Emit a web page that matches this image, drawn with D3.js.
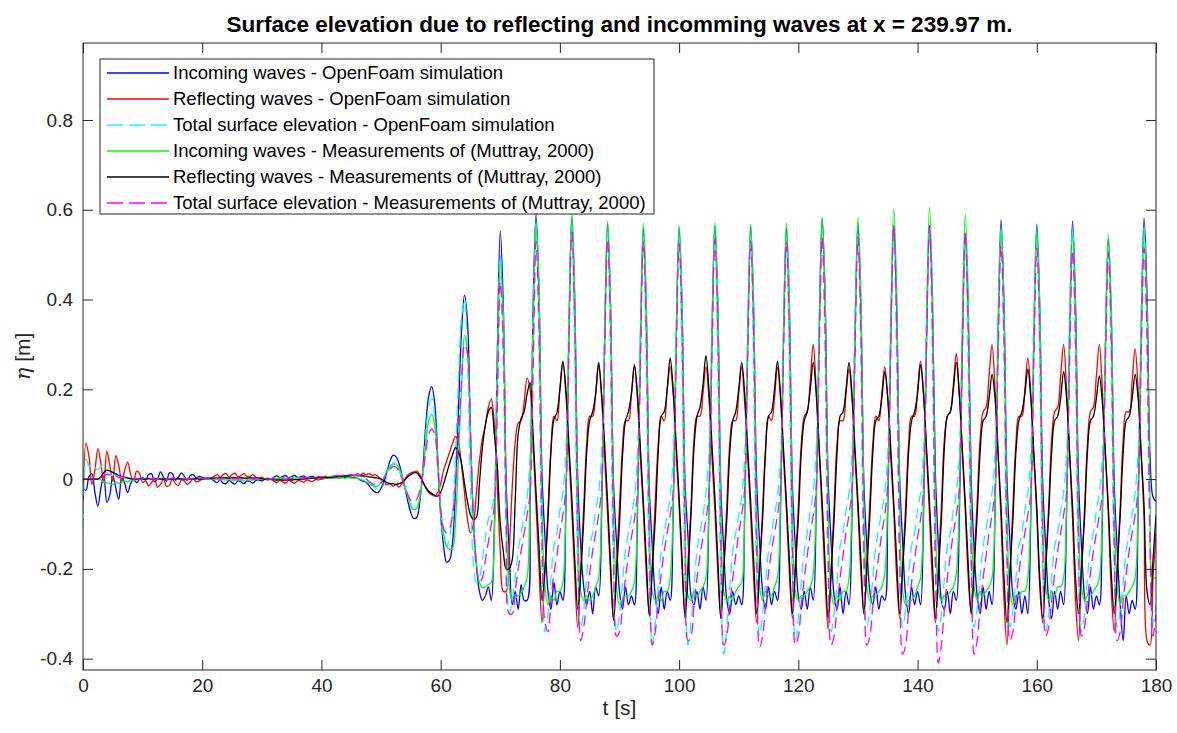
<!DOCTYPE html>
<html>
<head>
<meta charset="utf-8">
<script src="https://cdn.jsdelivr.net/npm/d3@7"></script>
<style>
  body { margin: 0; background: #fff; }
  svg { display: block; }
  text { font-family: "Liberation Sans", Arial, Helvetica, sans-serif; }
</style>
</head>
<body>
<div id="chart"></div>
<script>
// sample spacing of every series (s), first sample at t = 0
const tStep = 0.5;

const xTicks = [0, 20, 40, 60, 80, 100, 120, 140, 160, 180];
const yTicks = [-0.4, -0.2, 0, 0.2, 0.4, 0.6, 0.8];

const seriesNames = [
  "Incoming waves - OpenFoam simulation",
  "Reflecting waves - OpenFoam simulation",
  "Total surface elevation - OpenFoam simulation",
  "Incoming waves - Measurements of (Muttray, 2000)",
  "Reflecting waves - Measurements of (Muttray, 2000)",
  "Total surface elevation - Measurements of (Muttray, 2000)"
];

// one row = 6 s (12 samples)
const incomingSim = [
  -0.02, -0.025, 0.005, 0.012, -0.03, -0.06, -0.02, 0.008, -0.052, -0.035, 0.008, -0.02,
  -0.045, 0.005, -0.01, -0.03, -0.01, 0.0, -0.008, 0.0, 0.004, -0.002, 0.01, 0.012,
  -0.006, 0.0, 0.016, 0.005, -0.005, 0.014, 0.012, -0.002, 0.004, 0.014, 0.006, -0.003,
  0.008, 0.01, 0.002, 0.006, 0.004, 0.002, 0.003, 0.0, -0.004, -0.008, -0.002, -0.009,
  -0.01, -0.003, -0.008, -0.011, -0.004, -0.006, -0.01, -0.004, -0.005, -0.009, -0.003, -0.002,
  -0.004, 0.0, 0.002, 0.0, 0.004, 0.007, 0.003, 0.006, 0.008, 0.003, 0.005, 0.008,
  0.004, 0.005, 0.007, 0.003, 0.005, 0.006, 0.003, 0.004, 0.004, 0.003, 0.003, 0.002,
  0.003, 0.004, 0.002, 0.004, 0.003, 0.005, 0.004, 0.003, 0.002, -0.002, -0.005, -0.007,
  -0.015, -0.023, -0.029, -0.03, -0.02, -0.005, 0.017, 0.04, 0.053, 0.05, 0.035, 0.01,
  -0.02, -0.05, -0.075, -0.088, -0.085, -0.05, 0.02, 0.12, 0.185, 0.206, 0.17, 0.05,
  -0.08, -0.15, -0.185, -0.18, -0.14, -0.02, 0.16, 0.33, 0.41, 0.35, 0.1, -0.09,
  -0.19, -0.25, -0.27, -0.26, -0.24, -0.27, -0.11, 0.28, 0.553, 0.39, -0.01, -0.16,
  -0.28, -0.25, -0.29, -0.235, -0.27, -0.27, -0.04, 0.38, 0.59, 0.41, 0.01, -0.13,
  -0.25, -0.29, -0.23, -0.28, -0.25, -0.27, -0.07, 0.32, 0.585, 0.39, 0.0, -0.15,
  -0.24, -0.28, -0.25, -0.30, -0.24, -0.26, -0.08, 0.30, 0.57, 0.38, -0.01, -0.14,
  -0.25, -0.29, -0.24, -0.28, -0.26, -0.28, -0.09, 0.29, 0.56, 0.37, -0.02, -0.15,
  -0.26, -0.30, -0.24, -0.29, -0.25, -0.27, -0.08, 0.30, 0.56, 0.38, -0.01, -0.13,
  -0.26, -0.28, -0.25, -0.29, -0.24, -0.27, -0.07, 0.31, 0.565, 0.38, -0.02, -0.16,
  -0.27, -0.30, -0.25, -0.28, -0.26, -0.28, -0.08, 0.30, 0.565, 0.37, 0.0, -0.14,
  -0.25, -0.29, -0.24, -0.28, -0.25, -0.27, -0.08, 0.30, 0.56, 0.38, -0.01, -0.15,
  -0.26, -0.29, -0.25, -0.29, -0.24, -0.27, -0.06, 0.33, 0.582, 0.40, 0.0, -0.14,
  -0.26, -0.29, -0.24, -0.30, -0.25, -0.28, -0.08, 0.31, 0.57, 0.38, -0.01, -0.15,
  -0.25, -0.28, -0.24, -0.29, -0.26, -0.27, -0.07, 0.31, 0.565, 0.38, 0.0, -0.14,
  -0.26, -0.30, -0.24, -0.28, -0.25, -0.28, -0.08, 0.30, 0.565, 0.39, 0.01, -0.15,
  -0.27, -0.29, -0.25, -0.30, -0.25, -0.27, -0.09, 0.28, 0.548, 0.37, 0.0, -0.16,
  -0.26, -0.30, -0.24, -0.29, -0.25, -0.28, -0.07, 0.32, 0.578, 0.39, 0.0, -0.14,
  -0.26, -0.29, -0.25, -0.30, -0.26, -0.30, -0.08, 0.31, 0.568, 0.38, -0.01, -0.15,
  -0.27, -0.31, -0.25, -0.29, -0.25, -0.28, -0.07, 0.32, 0.575, 0.39, 0.0, -0.15,
  -0.26, -0.30, -0.24, -0.29, -0.26, -0.28, -0.09, 0.28, 0.535, 0.36, -0.01, -0.16,
  -0.28, -0.36, -0.26, -0.30, -0.27, -0.29, -0.07, 0.32, 0.582, 0.41, 0.05, -0.04,
  -0.05
];

const reflectingSim = [
  -0.075, 0.08, 0.05, -0.012, 0.02, 0.068, 0.035, -0.008, 0.062, 0.03, -0.005, 0.052,
  0.03, -0.005, 0.02, 0.038, 0.01, -0.004, 0.018, 0.012, -0.008, -0.004, -0.015, -0.008,
  0.0, -0.018, -0.012, 0.0, -0.016, -0.014, 0.0, -0.01, -0.014, -0.002, -0.004, -0.012,
  -0.006, 0.0, -0.006, -0.004, 0.0, 0.002, 0.0, 0.003, 0.006, 0.01, 0.004, 0.01,
  0.012, 0.004, 0.01, 0.013, 0.005, 0.008, 0.012, 0.006, 0.006, 0.01, 0.004, 0.003,
  0.004, 0.0, -0.002, 0.0, -0.004, -0.008, -0.003, -0.006, -0.009, -0.003, -0.006, -0.009,
  -0.004, -0.004, -0.007, -0.002, -0.004, -0.005, -0.001, -0.002, 0.0, 0.001, 0.002, 0.003,
  0.004, 0.006, 0.005, 0.007, 0.006, 0.008, 0.01, 0.008, 0.012, 0.009, 0.013, 0.01,
  0.012, 0.008, 0.01, 0.006, 0.0, -0.008, -0.013, -0.01, -0.016, -0.012, -0.018, -0.01,
  0.0, 0.01, 0.014, 0.016, 0.018, 0.01, -0.005, -0.02, -0.03, -0.035, -0.038, -0.03,
  -0.01, 0.02, 0.04, 0.06, 0.08, 0.095, 0.08, 0.03, -0.03, -0.09, -0.12, -0.1,
  -0.03, 0.04, 0.09, 0.12, 0.16, 0.178, 0.12, -0.02, -0.16, -0.25, -0.25, -0.16,
  -0.02, 0.08, 0.125, 0.13, 0.17, 0.225, 0.2, 0.08, -0.06, -0.2, -0.32, -0.2,
  -0.07, 0.07, 0.14, 0.13, 0.20, 0.26, 0.19, 0.06, -0.07, -0.22, -0.33, -0.2,
  -0.06, 0.08, 0.14, 0.14, 0.19, 0.255, 0.18, 0.05, -0.08, -0.21, -0.31, -0.19,
  -0.06, 0.07, 0.13, 0.13, 0.19, 0.25, 0.18, 0.05, -0.07, -0.21, -0.30, -0.19,
  -0.05, 0.08, 0.14, 0.13, 0.20, 0.25, 0.19, 0.06, -0.06, -0.20, -0.30, -0.18,
  -0.06, 0.09, 0.14, 0.14, 0.19, 0.25, 0.18, 0.05, -0.07, -0.21, -0.31, -0.19,
  -0.06, 0.08, 0.13, 0.13, 0.19, 0.25, 0.17, 0.05, -0.08, -0.22, -0.32, -0.2,
  -0.07, 0.07, 0.14, 0.13, 0.18, 0.25, 0.18, 0.05, -0.07, -0.21, -0.31, -0.19,
  -0.06, 0.08, 0.14, 0.15, 0.22, 0.30, 0.20, 0.06, -0.08, -0.23, -0.335, -0.2,
  -0.06, 0.08, 0.13, 0.13, 0.19, 0.245, 0.18, 0.05, -0.07, -0.21, -0.30, -0.18,
  -0.05, 0.08, 0.14, 0.13, 0.19, 0.25, 0.18, 0.05, -0.07, -0.22, -0.31, -0.19,
  -0.06, 0.08, 0.14, 0.14, 0.20, 0.263, 0.19, 0.06, -0.08, -0.23, -0.32, -0.19,
  -0.06, 0.09, 0.14, 0.15, 0.21, 0.28, 0.19, 0.06, -0.07, -0.22, -0.30, -0.18,
  -0.05, 0.09, 0.15, 0.16, 0.23, 0.30, 0.20, 0.06, -0.09, -0.27, -0.37, -0.21,
  -0.06, 0.08, 0.14, 0.14, 0.20, 0.27, 0.19, 0.05, -0.08, -0.24, -0.32, -0.19,
  -0.06, 0.09, 0.15, 0.16, 0.23, 0.30, 0.20, 0.06, -0.09, -0.27, -0.36, -0.21,
  -0.07, 0.08, 0.15, 0.16, 0.23, 0.30, 0.20, 0.06, -0.08, -0.25, -0.34, -0.2,
  -0.06, 0.09, 0.15, 0.15, 0.22, 0.29, 0.20, 0.06, -0.09, -0.36, -0.37, -0.22,
  -0.12
];

const totalSim = [
  -0.11, 0.045, 0.03, 0.02, 0.025, 0.02, 0.028, 0.018, 0.015, 0.01, 0.008, 0.012,
  0.006, 0.004, 0.006, 0.004, 0.002, 0.003, 0.002, 0.001, 0.002, 0.0, 0.001, 0.002,
  0.001, 0.0, 0.002, 0.001, 0.0, 0.001, 0.002, 0.0, 0.001, 0.002, 0.001, 0.0,
  0.001, 0.002, 0.0, 0.001, 0.002, 0.001, 0.002, 0.002, 0.001, 0.002, 0.001, 0.002,
  0.001, 0.002, 0.001, 0.001, 0.002, 0.001, 0.002, 0.001, 0.001, 0.002, 0.001, 0.001,
  0.0, 0.001, 0.0, 0.001, 0.0, 0.0, 0.001, 0.0, 0.0, 0.001, 0.0, 0.0,
  0.001, 0.001, 0.002, 0.002, 0.002, 0.003, 0.003, 0.004, 0.004, 0.005, 0.005, 0.006,
  0.007, 0.008, 0.007, 0.009, 0.008, 0.01, 0.01, 0.009, 0.01, 0.008, 0.006, 0.003,
  -0.003, -0.013, -0.018, -0.022, -0.02, -0.012, 0.005, 0.025, 0.035, 0.037, 0.02, 0.0,
  -0.02, -0.04, -0.06, -0.07, -0.065, -0.04, 0.01, 0.1, 0.16, 0.18, 0.14, 0.03,
  -0.08, -0.13, -0.15, -0.13, -0.07, 0.06, 0.23, 0.36, 0.40, 0.27, -0.02, -0.19,
  -0.23, -0.22, -0.18, -0.13, -0.09, -0.07, -0.03, 0.26, 0.50, 0.27, -0.14, -0.30,
  -0.27, -0.22, -0.16, -0.12, -0.08, -0.04, 0.05, 0.36, 0.57, 0.27, -0.20, -0.34,
  -0.30, -0.22, -0.15, -0.12, -0.07, -0.03, 0.06, 0.36, 0.565, 0.26, -0.20, -0.33,
  -0.29, -0.22, -0.15, -0.12, -0.07, -0.03, 0.06, 0.35, 0.55, 0.25, -0.21, -0.34,
  -0.30, -0.23, -0.16, -0.12, -0.08, -0.04, 0.05, 0.34, 0.54, 0.24, -0.23, -0.37,
  -0.32, -0.24, -0.16, -0.12, -0.08, -0.04, 0.05, 0.34, 0.54, 0.24, -0.23, -0.37,
  -0.32, -0.24, -0.16, -0.12, -0.08, -0.03, 0.06, 0.35, 0.545, 0.24, -0.24, -0.39,
  -0.33, -0.24, -0.16, -0.12, -0.08, -0.04, 0.05, 0.34, 0.545, 0.24, -0.22, -0.35,
  -0.30, -0.23, -0.16, -0.12, -0.08, -0.04, 0.05, 0.34, 0.54, 0.24, -0.22, -0.36,
  -0.31, -0.23, -0.16, -0.12, -0.07, -0.03, 0.07, 0.37, 0.56, 0.26, -0.21, -0.34,
  -0.30, -0.23, -0.15, -0.12, -0.07, -0.03, 0.06, 0.36, 0.55, 0.25, -0.20, -0.33,
  -0.29, -0.22, -0.15, -0.11, -0.07, -0.03, 0.06, 0.36, 0.55, 0.25, -0.20, -0.33,
  -0.29, -0.22, -0.15, -0.12, -0.07, -0.03, 0.06, 0.36, 0.55, 0.25, -0.21, -0.34,
  -0.30, -0.22, -0.15, -0.12, -0.07, -0.03, 0.05, 0.34, 0.53, 0.24, -0.20, -0.33,
  -0.29, -0.22, -0.15, -0.11, -0.07, -0.03, 0.06, 0.37, 0.56, 0.26, -0.20, -0.33,
  -0.29, -0.22, -0.15, -0.12, -0.07, -0.03, 0.06, 0.36, 0.55, 0.25, -0.21, -0.34,
  -0.30, -0.22, -0.15, -0.12, -0.07, -0.03, 0.06, 0.37, 0.555, 0.26, -0.21, -0.34,
  -0.30, -0.22, -0.15, -0.12, -0.07, -0.03, 0.05, 0.33, 0.515, 0.24, -0.20, -0.33,
  -0.29, -0.23, -0.16, -0.12, -0.08, -0.03, 0.06, 0.37, 0.56, 0.28, -0.17, -0.32,
  -0.28
];

const incomingMeas = [
  0, 0, 0, 0, 0, 0, -0.002, -0.006, -0.008, -0.01, -0.012, -0.006,
  -0.01, -0.008, -0.004, -0.006, -0.002, -0.003, -0.001, 0.0, 0.001, 0.0, 0.002, 0.001,
  0.002, 0.0, 0.001, 0.002, 0.0, 0.001, 0.002, 0.001, 0.0, 0.001, 0.002, 0.0,
  0.001, 0.0, 0.001, 0.002, 0.001, 0.0, 0.0, 0.001, -0.001, 0.0, -0.002, -0.001,
  -0.002, -0.001, -0.002, -0.003, -0.001, -0.002, -0.003, -0.001, -0.002, -0.002, -0.001, 0.0,
  0.0, 0.001, 0.0, 0.001, 0.002, 0.001, 0.002, 0.003, 0.002, 0.002, 0.003, 0.002,
  0.003, 0.002, 0.003, 0.003, 0.002, 0.003, 0.002, 0.003, 0.002, 0.002, 0.003, 0.002,
  0.002, 0.003, 0.002, 0.003, 0.002, 0.003, 0.002, 0.002, 0.001, 0.0, -0.003, -0.006,
  -0.01, -0.014, -0.016, -0.015, -0.008, 0.005, 0.018, 0.028, 0.033, 0.033, 0.025, 0.008,
  -0.015, -0.04, -0.06, -0.068, -0.065, -0.04, 0.01, 0.08, 0.13, 0.144, 0.12, 0.04,
  -0.06, -0.12, -0.15, -0.157, -0.155, -0.09, 0.05, 0.2, 0.32, 0.28, 0.1, -0.08,
  -0.19, -0.23, -0.242, -0.24, -0.235, -0.23, -0.12, 0.2, 0.479, 0.37, -0.06, -0.24,
  -0.27, -0.265, -0.26, -0.255, -0.24, -0.22, -0.01, 0.30, 0.57, 0.43, -0.06, -0.24,
  -0.28, -0.26, -0.27, -0.25, -0.25, -0.23, -0.06, 0.32, 0.593, 0.41, -0.07, -0.25,
  -0.27, -0.26, -0.27, -0.26, -0.24, -0.22, -0.05, 0.31, 0.575, 0.40, -0.07, -0.24,
  -0.28, -0.27, -0.26, -0.26, -0.25, -0.23, -0.06, 0.30, 0.57, 0.40, -0.08, -0.25,
  -0.27, -0.26, -0.27, -0.25, -0.25, -0.22, -0.06, 0.30, 0.565, 0.39, -0.07, -0.26,
  -0.27, -0.25, -0.26, -0.25, -0.24, -0.22, -0.05, 0.31, 0.573, 0.40, -0.07, -0.25,
  -0.27, -0.26, -0.27, -0.25, -0.24, -0.23, -0.06, 0.30, 0.568, 0.40, -0.08, -0.24,
  -0.27, -0.25, -0.26, -0.26, -0.24, -0.22, -0.05, 0.31, 0.57, 0.40, -0.07, -0.25,
  -0.27, -0.26, -0.26, -0.25, -0.24, -0.21, -0.04, 0.32, 0.58, 0.41, -0.07, -0.25,
  -0.28, -0.26, -0.27, -0.25, -0.25, -0.22, -0.05, 0.32, 0.583, 0.41, -0.06, -0.24,
  -0.27, -0.26, -0.26, -0.25, -0.24, -0.21, -0.04, 0.34, 0.603, 0.42, -0.06, -0.25,
  -0.28, -0.27, -0.27, -0.26, -0.24, -0.22, -0.04, 0.34, 0.605, 0.42, -0.07, -0.25,
  -0.27, -0.26, -0.26, -0.25, -0.24, -0.21, -0.05, 0.33, 0.59, 0.41, -0.07, -0.24,
  -0.27, -0.25, -0.26, -0.25, -0.24, -0.22, -0.06, 0.30, 0.56, 0.39, -0.07, -0.25,
  -0.28, -0.26, -0.26, -0.25, -0.25, -0.22, -0.06, 0.30, 0.555, 0.39, -0.08, -0.24,
  -0.27, -0.25, -0.26, -0.24, -0.24, -0.22, -0.06, 0.29, 0.545, 0.38, -0.07, -0.24,
  -0.27, -0.26, -0.26, -0.25, -0.24, -0.22, -0.06, 0.29, 0.545, 0.38, -0.06, -0.24,
  -0.28, -0.26, -0.26, -0.25, -0.24, -0.22, -0.06, 0.30, 0.555, 0.39, -0.04, -0.22,
  -0.22
];

const reflectingMeas = [
  0, 0, 0, 0, 0, 0, 0.005, 0.015, 0.02, 0.018, 0.015, 0.012,
  0.008, 0.006, 0.004, 0.002, 0.001, 0.0, 0.0, 0.001, 0.0, 0.0, 0.001, 0.0,
  0.0, 0.001, 0.0, 0.0, 0.001, 0.0, 0.0, 0.0, 0.001, 0.0, 0.0, 0.001,
  0.0, 0.0, 0.001, 0.0, 0.0, 0.001, 0.001, 0.002, 0.002, 0.003, 0.002, 0.003,
  0.003, 0.002, 0.003, 0.003, 0.002, 0.003, 0.002, 0.002, 0.003, 0.002, 0.002, 0.001,
  0.001, 0.0, 0.0, -0.001, -0.001, -0.002, -0.001, -0.002, -0.002, -0.001, -0.002, -0.001,
  -0.001, 0.0, 0.0, 0.001, 0.001, 0.002, 0.002, 0.003, 0.003, 0.004, 0.004, 0.004,
  0.005, 0.005, 0.006, 0.006, 0.007, 0.007, 0.008, 0.008, 0.008, 0.007, 0.007, 0.006,
  0.005, 0.004, 0.003, 0.002, 0.0, -0.004, -0.008, -0.01, -0.01, -0.012, -0.01, -0.008,
  -0.002, 0.006, 0.01, 0.014, 0.014, 0.006, -0.006, -0.018, -0.027, -0.032, -0.036, -0.038,
  -0.03, -0.01, 0.012, 0.035, 0.055, 0.07, 0.06, 0.035, -0.01, -0.05, -0.08, -0.09,
  -0.085, -0.01, 0.07, 0.12, 0.15, 0.16, 0.1, 0.03, -0.1, -0.16, -0.2, -0.2,
  -0.18, -0.05, 0.10, 0.135, 0.15, 0.19, 0.215, 0.10, -0.03, -0.15, -0.27, -0.20,
  -0.09, 0.06, 0.133, 0.148, 0.20, 0.263, 0.20, 0.08, -0.04, -0.18, -0.29, -0.21,
  -0.09, 0.06, 0.13, 0.15, 0.19, 0.26, 0.19, 0.08, -0.05, -0.19, -0.315, -0.21,
  -0.10, 0.05, 0.13, 0.15, 0.19, 0.255, 0.19, 0.07, -0.05, -0.18, -0.305, -0.2,
  -0.09, 0.06, 0.14, 0.15, 0.20, 0.27, 0.20, 0.08, -0.04, -0.18, -0.31, -0.21,
  -0.08, 0.07, 0.14, 0.16, 0.21, 0.275, 0.20, 0.08, -0.04, -0.18, -0.31, -0.2,
  -0.09, 0.06, 0.13, 0.15, 0.20, 0.26, 0.19, 0.07, -0.05, -0.18, -0.30, -0.2,
  -0.09, 0.06, 0.14, 0.15, 0.20, 0.263, 0.19, 0.07, -0.05, -0.18, -0.30, -0.2,
  -0.09, 0.06, 0.13, 0.15, 0.20, 0.26, 0.19, 0.07, -0.05, -0.19, -0.31, -0.21,
  -0.09, 0.06, 0.14, 0.15, 0.20, 0.26, 0.19, 0.07, -0.05, -0.18, -0.30, -0.2,
  -0.08, 0.06, 0.13, 0.14, 0.18, 0.24, 0.18, 0.07, -0.05, -0.18, -0.30, -0.2,
  -0.09, 0.06, 0.13, 0.15, 0.19, 0.255, 0.19, 0.07, -0.05, -0.19, -0.31, -0.21,
  -0.09, 0.07, 0.14, 0.15, 0.20, 0.26, 0.19, 0.07, -0.05, -0.19, -0.30, -0.2,
  -0.08, 0.06, 0.13, 0.14, 0.18, 0.233, 0.18, 0.06, -0.06, -0.22, -0.32, -0.21,
  -0.09, 0.06, 0.13, 0.15, 0.19, 0.245, 0.18, 0.06, -0.06, -0.22, -0.31, -0.2,
  -0.08, 0.06, 0.13, 0.14, 0.18, 0.24, 0.18, 0.06, -0.06, -0.22, -0.30, -0.2,
  -0.09, 0.06, 0.13, 0.14, 0.18, 0.23, 0.17, 0.06, -0.06, -0.21, -0.30, -0.2,
  -0.08, 0.06, 0.13, 0.14, 0.18, 0.233, 0.18, 0.06, -0.06, -0.25, -0.28, -0.18,
  -0.08
];

const totalMeas = [
  0, 0, 0, 0, 0, 0, 0.003, 0.008, 0.01, 0.009, 0.005, 0.007,
  0.004, 0.006, 0.003, 0.002, 0.001, 0.0, 0.001, 0.0, 0.001, 0.0, 0.0, 0.001,
  0.0, 0.001, 0.001, 0.0, 0.001, 0.001, 0.002, 0.001, 0.001, 0.0, 0.001, 0.001,
  0.001, 0.0, 0.002, 0.002, 0.001, 0.001, 0.001, 0.003, 0.001, 0.003, 0.0, 0.002,
  0.001, 0.001, 0.001, 0.0, 0.001, 0.001, -0.001, 0.001, 0.001, 0.0, 0.001, 0.001,
  0.001, 0.001, 0.0, 0.0, 0.001, -0.001, 0.001, 0.001, 0.0, 0.001, 0.001, 0.001,
  0.002, 0.002, 0.003, 0.004, 0.003, 0.005, 0.004, 0.006, 0.005, 0.006, 0.007, 0.006,
  0.007, 0.008, 0.007, 0.008, 0.008, 0.009, 0.009, 0.008, 0.008, 0.007, 0.004, 0.0,
  -0.006, -0.01, -0.012, -0.013, -0.008, 0.002, 0.012, 0.022, 0.028, 0.027, 0.018, 0.002,
  -0.018, -0.035, -0.048, -0.052, -0.045, -0.025, 0.01, 0.06, 0.1, 0.112, 0.1, 0.03,
  -0.07, -0.11, -0.12, -0.11, -0.08, -0.01, 0.1, 0.22, 0.3, 0.28, 0.1, -0.1,
  -0.2, -0.23, -0.22, -0.18, -0.14, -0.1, -0.06, 0.16, 0.44, 0.30, -0.08, -0.30,
  -0.30, -0.25, -0.2, -0.16, -0.12, -0.08, -0.03, 0.23, 0.53, 0.34, -0.12, -0.32,
  -0.34, -0.27, -0.21, -0.17, -0.12, -0.08, -0.02, 0.28, 0.55, 0.34, -0.14, -0.36,
  -0.33, -0.27, -0.21, -0.16, -0.12, -0.08, -0.02, 0.27, 0.535, 0.33, -0.14, -0.35,
  -0.34, -0.28, -0.22, -0.17, -0.13, -0.09, -0.03, 0.26, 0.53, 0.32, -0.15, -0.37,
  -0.34, -0.27, -0.21, -0.16, -0.12, -0.08, -0.03, 0.26, 0.525, 0.32, -0.14, -0.36,
  -0.35, -0.28, -0.22, -0.17, -0.13, -0.09, -0.03, 0.27, 0.535, 0.33, -0.15, -0.37,
  -0.35, -0.28, -0.22, -0.17, -0.12, -0.08, -0.02, 0.27, 0.53, 0.32, -0.15, -0.375,
  -0.35, -0.28, -0.21, -0.16, -0.12, -0.08, -0.02, 0.27, 0.53, 0.32, -0.15, -0.37,
  -0.35, -0.28, -0.22, -0.17, -0.12, -0.08, -0.02, 0.28, 0.54, 0.33, -0.15, -0.37,
  -0.35, -0.28, -0.22, -0.17, -0.12, -0.08, -0.02, 0.28, 0.54, 0.33, -0.15, -0.37,
  -0.35, -0.28, -0.22, -0.17, -0.12, -0.08, -0.01, 0.30, 0.565, 0.35, -0.17, -0.39,
  -0.37, -0.29, -0.23, -0.18, -0.13, -0.09, -0.02, 0.30, 0.565, 0.35, -0.18, -0.41,
  -0.37, -0.29, -0.22, -0.17, -0.12, -0.08, -0.02, 0.29, 0.55, 0.34, -0.17, -0.39,
  -0.36, -0.28, -0.22, -0.17, -0.12, -0.08, -0.02, 0.27, 0.52, 0.32, -0.15, -0.36,
  -0.34, -0.27, -0.21, -0.16, -0.12, -0.08, -0.03, 0.26, 0.515, 0.32, -0.14, -0.35,
  -0.33, -0.27, -0.21, -0.16, -0.12, -0.08, -0.03, 0.26, 0.51, 0.31, -0.14, -0.35,
  -0.33, -0.27, -0.21, -0.16, -0.12, -0.08, -0.03, 0.25, 0.505, 0.31, -0.14, -0.36,
  -0.34, -0.27, -0.21, -0.16, -0.12, -0.08, -0.02, 0.26, 0.515, 0.32, -0.12, -0.35,
  -0.3
];

function drawChart() {
  const width = 1177;
  const height = 733;
  const box = { left: 83, right: 1156, top: 43, bottom: 670 };
  const axisColor = "#262626";

  const svg = d3.select("#chart")
    .append("svg")
    .attr("width", width)
    .attr("height", height);

  const x = d3.scaleLinear().domain([0, 180]).range([box.left, box.right]);
  const y = d3.scaleLinear().domain([-0.4253, 0.9715]).range([box.bottom, box.top]);

  // series in plotting order (last one on top)
  const series = [
    { name: seriesNames[0], values: incomingSim, color: "#0000ff", dash: null },
    { name: seriesNames[1], values: reflectingSim, color: "#ff0000", dash: null },
    { name: seriesNames[2], values: totalSim, color: "#00ffff", dash: "11,6" },
    { name: seriesNames[3], values: incomingMeas, color: "#00ff00", dash: null },
    { name: seriesNames[4], values: reflectingMeas, color: "#000000", dash: null },
    { name: seriesNames[5], values: totalMeas, color: "#ff00ff", dash: "11,6" }
  ];

  svg.append("defs").append("clipPath")
    .attr("id", "plot-clip")
    .append("rect")
    .attr("x", box.left)
    .attr("y", box.top)
    .attr("width", box.right - box.left)
    .attr("height", box.bottom - box.top);

  const line = d3.line()
    .x((d, i) => x(i * tStep))
    .y(d => y(d))
    .curve(d3.curveCatmullRom.alpha(0.5));

  svg.append("g")
    .attr("clip-path", "url(#plot-clip)")
    .selectAll("path")
    .data(series)
    .join("path")
    .attr("d", d => line(d.values))
    .attr("fill", "none")
    .attr("stroke", d => d.color)
    .attr("stroke-width", 1.3)
    .attr("stroke-dasharray", d => d.dash)
    .attr("stroke-linejoin", "round");

  // axes: ticks point inwards on all four sides, like MATLAB
  const styleAxis = g => {
    g.select(".domain").remove();
    g.selectAll(".tick line").attr("stroke", axisColor);
    g.selectAll(".tick text")
      .attr("fill", axisColor)
      .attr("font-size", 19)
      .attr("font-family", '"Liberation Sans", Arial, Helvetica, sans-serif');
  };
  const yFmt = v => String(+v.toFixed(1));

  svg.append("g")
    .attr("transform", `translate(0,${box.bottom})`)
    .call(d3.axisBottom(x).tickValues(xTicks).tickSize(-10).tickPadding(9).tickFormat(d3.format("d")))
    .call(styleAxis);

  svg.append("g")
    .attr("transform", `translate(0,${box.top})`)
    .call(d3.axisTop(x).tickValues(xTicks).tickSize(-10).tickFormat(""))
    .call(styleAxis);

  svg.append("g")
    .attr("transform", `translate(${box.left},0)`)
    .call(d3.axisLeft(y).tickValues(yTicks).tickSize(-10).tickPadding(10).tickFormat(yFmt))
    .call(styleAxis);

  svg.append("g")
    .attr("transform", `translate(${box.right},0)`)
    .call(d3.axisRight(y).tickValues(yTicks).tickSize(-10).tickFormat(""))
    .call(styleAxis);

  svg.append("rect")
    .attr("x", box.left)
    .attr("y", box.top)
    .attr("width", box.right - box.left)
    .attr("height", box.bottom - box.top)
    .attr("fill", "none")
    .attr("stroke", axisColor)
    .attr("stroke-width", 1);

  // title and axis labels
  svg.append("text")
    .attr("x", (box.left + box.right) / 2)
    .attr("y", 32)
    .attr("text-anchor", "middle")
    .attr("font-size", 22.5)
    .attr("font-weight", "bold")
    .attr("fill", "#000")
    .text("Surface elevation due to reflecting and incomming waves at x = 239.97 m.");

  svg.append("text")
    .attr("x", (box.left + box.right) / 2)
    .attr("y", 715)
    .attr("text-anchor", "middle")
    .attr("font-size", 21)
    .attr("fill", axisColor)
    .text("t [s]");

  const yLab = svg.append("text")
    .attr("transform", `translate(30,${(box.top + box.bottom) / 2}) rotate(-90)`)
    .attr("text-anchor", "middle")
    .attr("font-size", 21)
    .attr("fill", axisColor);
  yLab.append("tspan").attr("font-style", "italic").attr("font-family", '"DejaVu Serif", serif').text("η");
  yLab.append("tspan").text(" [m]");

  // legend
  const legend = svg.append("g");
  const legX = 100, legY = 59, legW = 554, legH = 155;
  const rowY0 = 73, rowStep = 26;

  legend.append("rect")
    .attr("x", legX)
    .attr("y", legY)
    .attr("width", legW)
    .attr("height", legH)
    .attr("fill", "#fff")
    .attr("stroke", axisColor)
    .attr("stroke-width", 1);

  const rows = legend.selectAll(".row")
    .data(series)
    .join("g")
    .attr("class", "row")
    .attr("transform", (d, i) => `translate(0,${rowY0 + i * rowStep})`);

  rows.append("line")
    .attr("x1", 107)
    .attr("x2", 169)
    .attr("stroke", d => d.color)
    .attr("stroke-width", 1.3)
    .attr("stroke-dasharray", d => d.dash ? "16,6" : null);

  rows.append("text")
    .attr("x", 173)
    .attr("y", 6)
    .attr("font-size", 18.5)
    .attr("fill", "#000")
    .text(d => d.name);
}

document.addEventListener("DOMContentLoaded", drawChart);
</script>
</body>
</html>
